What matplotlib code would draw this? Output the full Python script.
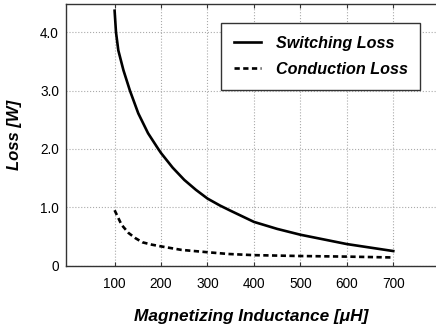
import matplotlib
matplotlib.use("Agg")
import matplotlib.pyplot as plt

plt.rcParams['font.family'] = ['Liberation Sans', 'DejaVu Sans']

# Data
sw_x = [100, 103, 108, 119, 133, 151, 172, 194, 200, 225, 250, 275, 300, 327, 350, 400, 450, 500, 550, 600, 650, 700]
sw_y = [4.37, 4.00, 3.69, 3.35, 3.00, 2.61, 2.27, 2.00, 1.93, 1.68, 1.47, 1.30, 1.15, 1.03, 0.94, 0.75, 0.63, 0.53, 0.45, 0.37, 0.31, 0.25]

cd_x = [100, 115, 130, 145, 160, 180, 200, 244, 300, 345, 400, 500, 600, 700]
cd_y = [0.95, 0.70, 0.56, 0.47, 0.40, 0.36, 0.33, 0.27, 0.23, 0.20, 0.18, 0.165, 0.155, 0.14]

x_ticks = [100, 200, 300, 400, 500, 600, 700]
y_ticks = [0, 1.0, 2.0, 3.0, 4.0]
y_ticklabels = ['0', '1.0', '2.0', '3.0', '4.0']

fig = plt.figure(figsize=(4.36, 3.30), dpi=100)
ax = fig.add_axes([0.151, 0.195, 0.849, 0.792])

ax.plot(sw_x, sw_y, color='black', lw=1.9, solid_joinstyle='round', label='Switching Loss')
ax.plot(cd_x, cd_y, color='black', lw=1.9, linestyle=(0, (2.0, 1.3)), label='Conduction Loss')

ax.set_xlim(-5, 792)
ax.set_ylim(0, 4.48)
ax.set_xticks(x_ticks)
ax.set_yticks(y_ticks)
ax.set_yticklabels(y_ticklabels)

ax.grid(True, color='#aaaaaa', linestyle=':', linewidth=0.8)
ax.set_axisbelow(True)

ax.tick_params(axis='x', direction='in', length=3, width=0.8, color='#333333',
               top=True, pad=8, labelsize=9.8)
ax.tick_params(axis='y', direction='in', length=0, pad=5, labelsize=9.8)

for s in ax.spines.values():
    s.set_color('#333333')
    s.set_linewidth(1.0)
ax.spines['right'].set_visible(False)

ax.set_xlabel('Magnetizing Inductance [μH]', fontsize=12.4, fontweight='bold',
              fontstyle='italic', labelpad=13)
ax.set_ylabel('Loss [W]', fontsize=12, fontweight='bold', fontstyle='italic', labelpad=13)

leg = ax.legend(loc='upper left', bbox_to_anchor=(0.4186, 0.9296), frameon=True, fancybox=False,
                edgecolor='#333333', framealpha=1, handlelength=1.7, handletextpad=0.9,
                labelspacing=0.7, borderpad=0.8, borderaxespad=0,
                prop={'size': 11.6, 'weight': 'bold', 'style': 'italic'})
leg.get_frame().set_linewidth(1.0)

fig.savefig('out.png', dpi=100)
